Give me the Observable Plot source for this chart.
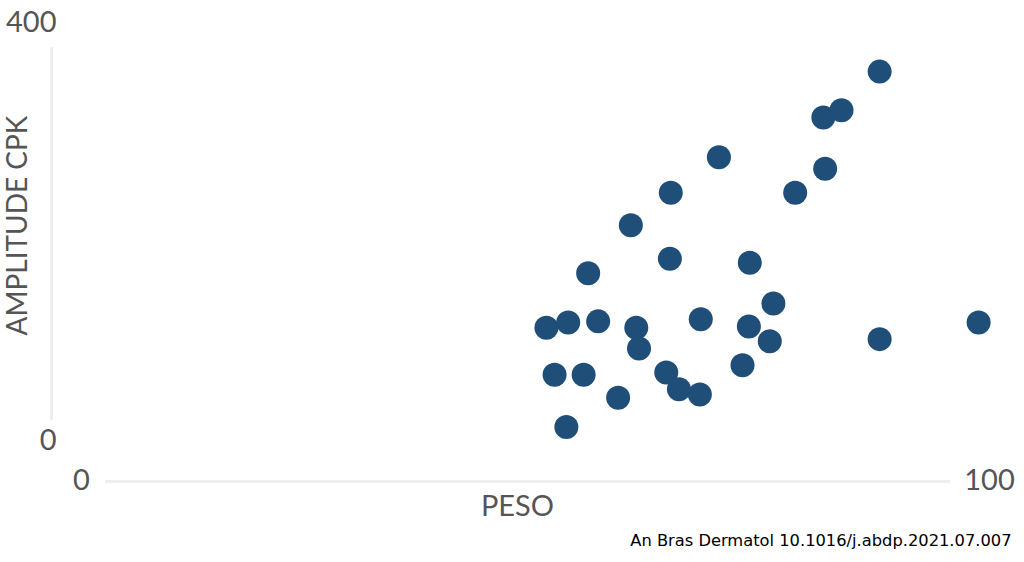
<!DOCTYPE html>
<html>
<head>
<meta charset="utf-8">
<script src="https://cdn.jsdelivr.net/npm/d3@7"></script>
<script src="https://cdn.jsdelivr.net/npm/@observablehq/plot@0.6"></script>
<style>
  html, body { margin: 0; padding: 0; background: #fff; }
  #chart svg { display: block; }
</style>
</head>
<body>
<div id="chart"></div>
<script>
// Weight (PESO) vs CPK amplitude, one dot per patient
const peso = [87.9, 81.7, 83.7, 70.2, 81.9, 64.9, 78.6, 60.5, 64.8, 73.6,
              55.8, 76.2, 51.2, 53.6, 56.9, 61.1, 61.4, 68.2, 73.5, 75.8,
              87.9, 98.8, 52.1, 55.3, 64.4, 65.8, 68.1, 72.8, 59.1, 53.4];
const cpk  = [353, 309, 316, 271, 260, 237, 237, 206, 174, 170,
              160, 131, 108, 113, 114, 108, 88, 116, 109, 95,
              97, 113, 63, 63, 65, 49, 44, 72, 41, 13];
const xTicks = [0, 100];
const yTicks = [0, 400];
const xTitle = "PESO";
const yTitle = "AMPLITUDE CPK";
const source = "An Bras Dermatol 10.1016/j.abdp.2021.07.007";

const points = peso.map((p, i) => ({peso: p, cpk: cpk[i]}));

const labelFont = "Lato, 'Open Sans', sans-serif";
const grey = "#555";

const chart = Plot.plot({
  width: 1024,
  height: 562,
  marginLeft: 81,
  marginRight: 35,
  marginTop: 22,
  marginBottom: 122,
  x: {domain: [0, 100], axis: null},
  y: {domain: [0, 400], axis: null},
  style: {background: "#fff", fontFamily: labelFont},
  marks: [
    // faint axis lines
    Plot.ruleX([0], {dx: -30, insetTop: 25, insetBottom: 20, stroke: "#eeeeee", strokeWidth: 3}),
    Plot.ruleY([0], {dy: 41, insetLeft: 24, insetRight: 39, stroke: "#eeeeee", strokeWidth: 3}),
    // tick labels at the axis ends
    Plot.text(yTicks, {y: d => d, text: d => String(d), frameAnchor: "left", textAnchor: "end", dx: -25,
      fontSize: 29, fill: grey, lineAnchor: "middle"}),
    Plot.text(xTicks, {x: d => d, text: d => String(d), frameAnchor: "bottom", dy: 40,
      fontSize: 29, fill: grey, lineAnchor: "middle"}),
    // axis titles
    Plot.text([xTitle], {text: d => d, frameAnchor: "bottom", dx: -18, dy: 66,
      fontSize: 29, fill: grey, lineAnchor: "middle"}),
    Plot.text([yTitle], {text: d => d, frameAnchor: "left", textAnchor: "middle", rotate: -90, dx: -63, dy: -6,
      fontSize: 28, fill: grey, lineAnchor: "middle"}),
    // data
    Plot.dot(points, {x: "peso", y: "cpk", r: 12, fill: "#1f4e79", stroke: "none"}),
    // source line
    Plot.text([source], {text: d => d, frameAnchor: "bottom-right", dx: 22, dy: 100, textAnchor: "end",
      fontFamily: "'DejaVu Sans', Verdana, sans-serif", fontSize: 16.3, fill: "#000", lineAnchor: "middle"})
  ]
});

document.getElementById("chart").appendChild(chart);
</script>
</body>
</html>
